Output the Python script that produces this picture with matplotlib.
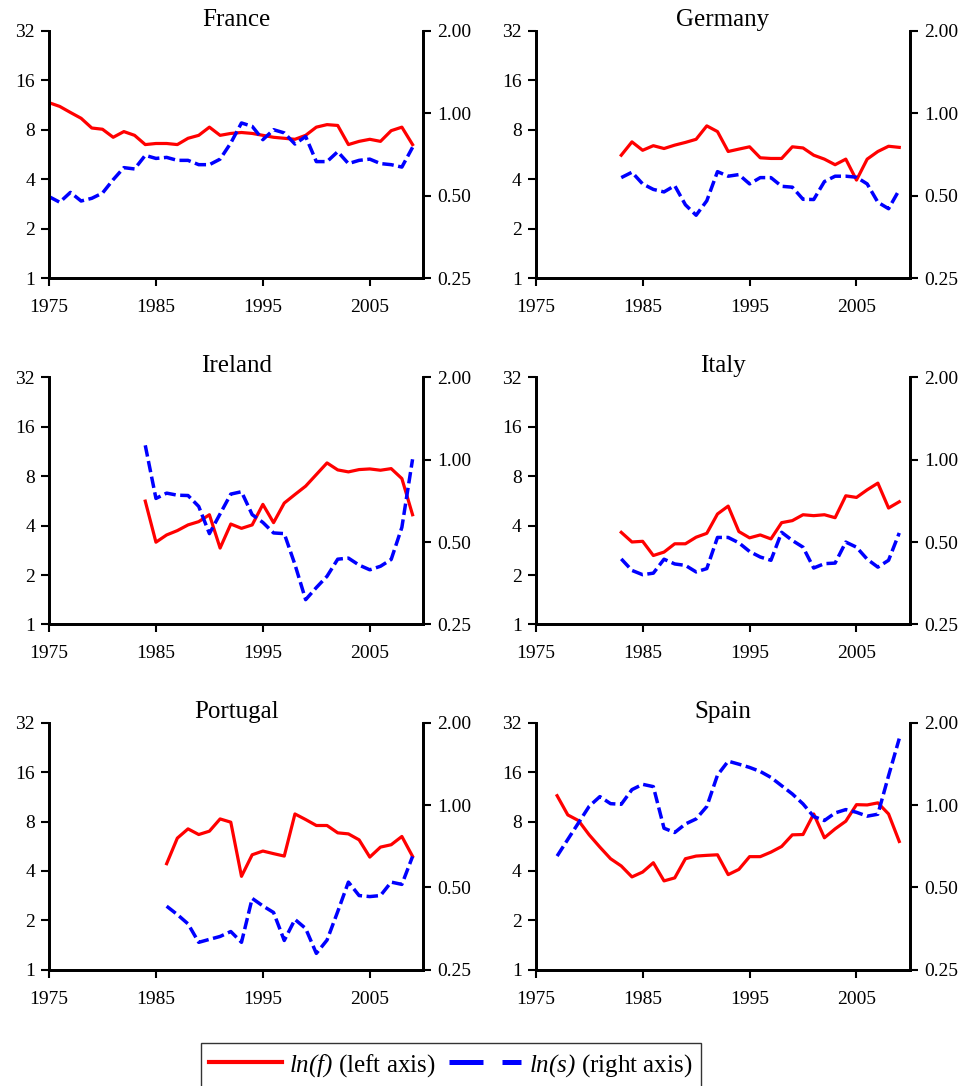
import matplotlib as mpl
mpl.use('Agg')
import matplotlib.pyplot as plt
from matplotlib.lines import Line2D
from matplotlib.ticker import FixedLocator, NullLocator, FixedFormatter

plt.rcParams['font.family'] = ['Liberation Serif', 'DejaVu Serif']
plt.rcParams['mathtext.fontset'] = 'custom'
plt.rcParams['mathtext.rm'] = 'Liberation Serif:italic'
plt.rcParams['mathtext.it'] = 'Liberation Serif:italic'

countries = ['France', 'Germany', 'Ireland', 'Italy', 'Portugal', 'Spain']
start_years = [1975, 1983, 1984, 1983, 1986, 1977]
end_year = 2009

france_f = [11.7, 11.1, 10.2, 9.4, 8.2, 8.06, 7.2, 7.8, 7.4, 6.5,
            6.6, 6.6, 6.5, 7.1, 7.4, 8.3, 7.4, 7.6, 7.7, 7.6,
            7.4, 7.2, 7.1, 7.0, 7.4, 8.3, 8.6, 8.5, 6.5, 6.8,
            7.0, 6.8, 7.9, 8.3, 6.5]
france_s = [0.496, 0.473, 0.514, 0.478, 0.489, 0.511, 0.572, 0.633, 0.626, 0.702,
            0.684, 0.690, 0.673, 0.673, 0.649, 0.649, 0.680, 0.779, 0.922, 0.896,
            0.801, 0.871, 0.848, 0.772, 0.823, 0.666, 0.666, 0.724, 0.655, 0.673,
            0.680, 0.655, 0.649, 0.636, 0.751]

germany_f = [5.6, 6.75,
             6.0, 6.4, 6.15, 6.45, 6.7, 7.0, 8.45, 7.8, 5.9, 6.1,
             6.3, 5.4, 5.35, 5.35, 6.3, 6.2, 5.6, 5.3, 4.9, 5.3,
             3.95, 5.3, 5.9, 6.35, 6.25]
germany_s = [0.582, 0.609,
             0.552, 0.527, 0.516, 0.544, 0.463, 0.424, 0.479, 0.612, 0.589, 0.597,
             0.552, 0.582, 0.582, 0.541, 0.537, 0.485, 0.484, 0.563, 0.589, 0.589,
             0.584, 0.552, 0.473, 0.448, 0.525]

ireland_f = [5.64,
             3.17, 3.51, 3.73, 4.04, 4.23, 4.66, 2.92, 4.09, 3.85, 4.04,
             5.39, 4.17, 5.49, 6.19, 6.96, 8.19, 9.64, 8.74, 8.50, 8.78,
             8.86, 8.70, 8.90, 7.74, 4.66]
ireland_s = [1.129,
             0.722, 0.755, 0.742, 0.740, 0.675, 0.537, 0.634, 0.749, 0.764, 0.630,
             0.590, 0.540, 0.537, 0.414, 0.308, 0.341, 0.375, 0.433, 0.437, 0.412,
             0.396, 0.408, 0.432, 0.566, 1.004]

italy_f = [3.64, 3.18,
           3.21, 2.63, 2.76, 3.10, 3.10, 3.40, 3.59, 4.71, 5.26, 3.68,
           3.37, 3.51, 3.32, 4.17, 4.29, 4.66, 4.60, 4.66, 4.47, 6.08,
           5.94, 6.61, 7.26, 5.12, 5.59]
italy_s = [0.434, 0.394,
           0.380, 0.385, 0.433, 0.416, 0.411, 0.389, 0.400, 0.520, 0.520, 0.497,
           0.462, 0.441, 0.429, 0.543, 0.507, 0.479, 0.402, 0.417, 0.419, 0.500,
           0.479, 0.433, 0.405, 0.429, 0.540]

portugal_f = [4.43, 6.34, 7.22, 6.67, 6.99, 8.30, 7.93, 3.71, 5.02,
              5.29, 5.10, 4.93, 8.90, 8.23, 7.57, 7.57, 6.83, 6.73, 6.19,
              4.86, 5.59, 5.78, 6.49, 4.91]
portugal_s = [0.427, 0.398, 0.368, 0.315, 0.323, 0.331, 0.345, 0.315, 0.456,
              0.428, 0.405, 0.320, 0.382, 0.354, 0.287, 0.321, 0.408, 0.523, 0.467,
              0.463, 0.467, 0.523, 0.513, 0.649]

spain_f = [11.5, 8.78, 8.11, 6.64, 5.59, 4.75, 4.29, 3.68,
           3.94, 4.49, 3.48, 3.63, 4.75, 4.93, 4.98, 5.02, 3.80, 4.09,
           4.89, 4.89, 5.21, 5.64, 6.64, 6.67, 8.90, 6.37, 7.22, 8.04,
           10.14, 10.1, 10.4, 8.90, 6.05]
spain_s = [0.651, 0.749, 0.861, 0.990, 1.074, 1.012, 1.007, 1.139,
           1.191, 1.168, 0.823, 0.794, 0.853, 0.890, 0.988, 1.287, 1.447, 1.411,
           1.373, 1.327, 1.262, 1.177, 1.098, 1.010, 0.908, 0.878, 0.936, 0.963,
           0.941, 0.911, 0.926, 1.280, 1.750]

f_series = [france_f, germany_f, ireland_f, italy_f, portugal_f, spain_f]
s_series = [france_s, germany_s, ireland_s, italy_s, portugal_s, spain_s]

left_ticks = [1, 2, 4, 8, 16, 32]
right_ticks = [0.25, 0.5, 1.0, 2.0]
right_labels = ['0.25', '0.50', '1.00', '2.00']
x_ticks = [1975, 1985, 1995, 2005]

fig = plt.figure(figsize=(9.67, 10.86), dpi=100)

lefts = [0.0507, 0.554]
bottoms = [0.744, 0.425, 0.107]
w, h = 0.387, 0.2275

for i, name in enumerate(countries):
    ax = fig.add_axes([lefts[i % 2], bottoms[i // 2], w, h])
    ax2 = ax.twinx()
    years = list(range(start_years[i], end_year + 1))

    ax.plot(years, f_series[i], color='red', lw=2.3)
    ax2.plot(years, s_series[i], color='blue', lw=2.5, dashes=(3.3, 1.3))

    ax.set_yscale('log', base=2)
    ax2.set_yscale('log', base=2)
    ax.set_ylim(1, 32)
    ax2.set_ylim(0.25, 2)
    ax.set_xlim(1975, 2010)

    ax.yaxis.set_major_locator(FixedLocator(left_ticks))
    ax.yaxis.set_major_formatter(FixedFormatter([str(t) for t in left_ticks]))
    ax.yaxis.set_minor_locator(NullLocator())
    ax2.yaxis.set_major_locator(FixedLocator(right_ticks))
    ax2.yaxis.set_major_formatter(FixedFormatter(right_labels))
    ax2.yaxis.set_minor_locator(NullLocator())
    ax.set_xticks(x_ticks)

    for a in (ax, ax2):
        a.spines['top'].set_visible(False)
        for sp in ('left', 'right', 'bottom'):
            a.spines[sp].set_linewidth(2)
        a.tick_params(axis='both', direction='out', length=6, width=1.5,
                      labelsize=14, colors='black')
    ax.tick_params(axis='x', pad=9)
    ax.tick_params(axis='y', pad=4)
    ax2.tick_params(axis='y', pad=4)

    ax.set_title(name, fontsize=18, pad=1)

# legend handles drawn a bit heavier, like the original
h_f = Line2D([], [], color='red', lw=3)
h_s = Line2D([], [], color='blue', lw=3.6, dashes=(6.8, 3.8))
fig.legend([h_f, h_s], [r'$ln(f)$ (left axis)', r'$ln(s)$ (right axis)'],
           loc='upper center', bbox_to_anchor=(0.466, 1 - 1043 / 1086),
           ncol=2, fontsize=18, frameon=True, fancybox=False, edgecolor='black',
           handlelength=2.9, columnspacing=0.5, handletextpad=0.3,
           borderpad=0.35, borderaxespad=0)

fig.savefig('out.png', dpi=100)
